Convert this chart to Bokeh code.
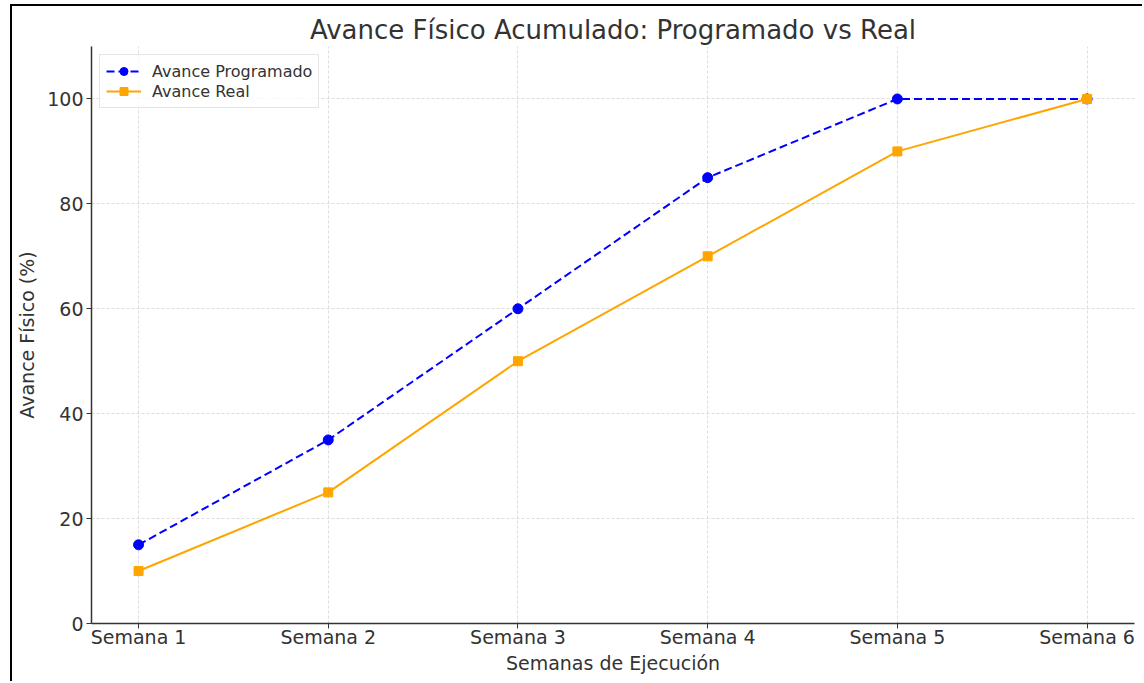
from bokeh.plotting import figure
from bokeh.models import Range1d, FixedTicker, Legend, LegendItem
from bokeh.embed import file_html
from bokeh.resources import INLINE

semanas = ["Semana 1", "Semana 2", "Semana 3", "Semana 4", "Semana 5", "Semana 6"]
programado = [15, 35, 60, 85, 100, 100]
real = [10, 25, 50, 70, 90, 100]
y_ticks = [0, 20, 40, 60, 80, 100]

x = list(range(len(semanas)))
FONT = "DejaVu Sans"

p = figure(width=1132, height=677, output_backend="svg", toolbar_location=None,
           x_range=Range1d(-0.248, 5.25), y_range=Range1d(0, 110),
           min_border_left=79, min_border_right=10, min_border_top=40, min_border_bottom=60)
p.styles = {"margin-left": "10px", "margin-top": "4px",
            "border-left": "2px solid black", "border-top": "2px solid black"}

p.title.text = "Avance Físico Acumulado: Programado vs Real"
p.title.align = "center"
p.title.text_font = FONT
p.title.text_font_size = "26px"
p.title.text_font_style = "normal"
p.title.text_color = "#333333"
p.title.offset = 0
p.title.standoff = 4

p.outline_line_color = None
p.background_fill_color = "white"
p.border_fill_color = "white"

for ax in (p.xaxis[0], p.yaxis[0]):
    ax.axis_line_color = "#333333"
    ax.axis_line_width = 1.5
    ax.major_tick_line_color = "#333333"
    ax.major_tick_in = 0
    ax.major_tick_out = 5
    ax.minor_tick_line_color = None
    ax.major_label_text_font = FONT
    ax.major_label_text_font_size = "19px"
    ax.major_label_text_color = "#333333"
    ax.axis_label_text_font = FONT
    ax.axis_label_text_font_size = "19px"
    ax.axis_label_text_font_style = "normal"
    ax.axis_label_text_color = "#333333"

p.xaxis.ticker = FixedTicker(ticks=x)
p.xaxis.major_label_overrides = {i: s for i, s in enumerate(semanas)}
p.xaxis.axis_label = "Semanas de Ejecución"
p.xaxis.major_label_standoff = -3
p.xaxis.axis_label_standoff = 1
p.yaxis.ticker = FixedTicker(ticks=y_ticks)
p.yaxis.axis_label = "Avance Físico (%)"
p.yaxis.major_label_standoff = 3
p.yaxis.axis_label_standoff = 6

p.grid.grid_line_color = "#d4d4d4"
p.grid.grid_line_alpha = 1.0
p.grid.grid_line_dash = "3 2"
p.grid.grid_line_width = 0.8

l1 = p.line(x, programado, line_color="#0000ff", line_width=2, line_dash="8 4")
m1 = p.scatter(x, programado, marker="circle", size=10, fill_color="#0000ff", line_color="#0000ff")
l2 = p.line(x, real, line_color="#ffa500", line_width=2)
m2 = p.scatter(x, real, marker="square", size=9, fill_color="#ffa500", line_color="#ffa500")

legend = Legend(items=[LegendItem(label="Avance Programado", renderers=[l1, m1]),
                       LegendItem(label="Avance Real", renderers=[l2, m2])],
                location="top_left", margin=8, padding=6, spacing=0,
                glyph_width=35, glyph_height=20, label_standoff=11,
                label_text_font=FONT, label_text_font_size="16px", label_text_color="#333333",
                border_line_color="#cccccc", border_line_width=1, background_fill_alpha=0.8)
p.add_layout(legend)

open("out.html", "w").write(file_html(p, INLINE))
